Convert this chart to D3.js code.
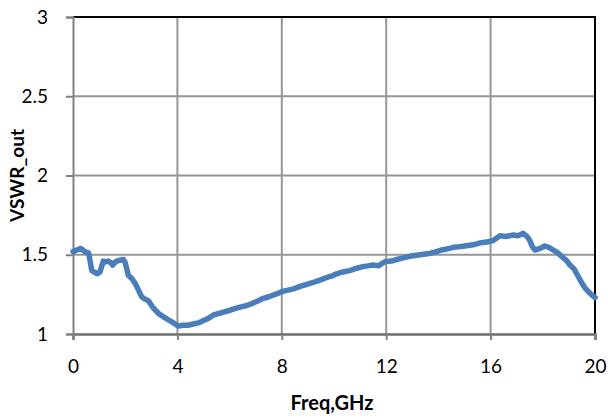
<!DOCTYPE html>
<html><head><meta charset="utf-8">
<script src="https://cdn.jsdelivr.net/npm/d3@7"></script>
<style>body{margin:0;background:#fff}svg{display:block}</style>
</head><body>
<svg id="c" width="608" height="420"></svg>
<script>
const freq = [0,0.15,0.3,0.45,0.6,0.72,0.82,0.92,1.03,1.16,1.25,1.35,1.45,1.52,1.6,1.67,1.8,1.93,2.0,2.12,2.25,2.38,2.5,2.63,2.76,2.89,3.05,3.27,3.45,3.65,3.85,4.03,4.2,4.4,4.61,4.8,5.0,5.2,5.38,5.6,5.8,6.02,6.2,6.4,6.66,6.9,7.1,7.29,7.5,7.75,8.0,8.2,8.45,8.7,8.9,9.2,9.46,9.7,9.9,10.1,10.3,10.6,10.87,11.1,11.3,11.5,11.7,11.95,12.2,12.4,12.66,12.9,13.1,13.3,13.5,13.7,13.93,14.1,14.3,14.57,14.8,15.0,15.2,15.4,15.6,15.85,16.1,16.36,16.6,16.87,17.05,17.25,17.4,17.5,17.6,17.7,17.9,18.08,18.25,18.4,18.55,18.72,18.9,19.04,19.2,19.3,19.4,19.5,19.62,19.75,19.88,20];
const vswr = [1.52,1.53,1.54,1.52,1.51,1.40,1.39,1.38,1.39,1.46,1.455,1.46,1.45,1.435,1.45,1.46,1.465,1.47,1.45,1.37,1.35,1.32,1.28,1.235,1.22,1.21,1.17,1.13,1.11,1.09,1.07,1.05,1.055,1.055,1.063,1.07,1.085,1.10,1.12,1.13,1.14,1.15,1.16,1.17,1.18,1.195,1.21,1.225,1.235,1.25,1.267,1.275,1.285,1.30,1.31,1.325,1.34,1.355,1.365,1.38,1.39,1.40,1.415,1.425,1.43,1.435,1.43,1.456,1.46,1.47,1.48,1.49,1.495,1.50,1.505,1.51,1.52,1.53,1.535,1.547,1.55,1.555,1.56,1.565,1.575,1.58,1.59,1.62,1.615,1.625,1.62,1.635,1.615,1.59,1.55,1.53,1.54,1.555,1.545,1.53,1.515,1.49,1.465,1.435,1.41,1.38,1.35,1.32,1.29,1.267,1.245,1.23];
const xTicks = [0,4,8,12,16,20];
const yTicks = [1,1.5,2,2.5,3];
const xLabel = "Freq,GHz";
const yLabel = "VSWR_out";

const svg = d3.select("#c");
const L=73, R=595, T=17, B=334;
const x = d3.scaleLinear().domain([0,20]).range([L,R]);
const y = d3.scaleLinear().domain([1,3]).range([B,T]);
const font = "Lato, 'Open Sans', sans-serif";

// gridlines
svg.append("g").selectAll("line").data(xTicks.slice(1,-1)).join("line")
  .attr("x1",d=>x(d)).attr("x2",d=>x(d)).attr("y1",T).attr("y2",B)
  .attr("stroke","#969696").attr("stroke-width",2);
svg.append("g").selectAll("line").data(yTicks.slice(1,-1)).join("line")
  .attr("y1",d=>y(d)).attr("y2",d=>y(d)).attr("x1",L).attr("x2",R)
  .attr("stroke","#969696").attr("stroke-width",2);

// plot border (top/right black)
svg.append("path").attr("d",`M${L},${T}H${R}V${B}`).attr("fill","none")
  .attr("stroke","#000").attr("stroke-width",2);

// axes
const xAxis = d3.axisBottom(x).tickValues(xTicks).tickSize(6).tickPadding(20).tickFormat(d3.format("d"));
const gx = svg.append("g").attr("transform",`translate(0,${B})`).call(xAxis);
gx.select(".domain").attr("stroke","#6e6e6e").attr("stroke-width",2.5);
gx.selectAll(".tick line").attr("stroke","#808080").attr("stroke-width",2);
gx.selectAll("text").attr("font-family",font).attr("font-size",19).attr("fill","#000");

const yAxis = d3.axisLeft(y).tickValues(yTicks).tickSize(7).tickPadding(18).tickFormat(d=>String(d));
const gy = svg.append("g").attr("transform",`translate(${L},0)`).call(yAxis);
gy.select(".domain").attr("stroke","#808080").attr("stroke-width",2);
gy.selectAll(".tick line").attr("stroke","#808080").attr("stroke-width",2);
gy.selectAll("text").attr("font-family",font).attr("font-size",19).attr("fill","#000");

// line
const line = d3.line().x((d,i)=>x(freq[i])).y(d=>y(d)).curve(d3.curveLinear);
svg.append("path").datum(vswr).attr("d",line).attr("fill","none")
  .attr("stroke","#4a7ebb").attr("stroke-width",5.5).attr("stroke-linejoin","round").attr("stroke-linecap","round");

// labels
svg.append("text").attr("x",(L+R)/2-2).attr("y",410).attr("text-anchor","middle")
  .attr("font-family",font).attr("font-weight","bold").attr("font-size",20).text(xLabel);
svg.append("text").attr("transform",`translate(24,${(T+B)/2}) rotate(-90)`).attr("text-anchor","middle")
  .attr("font-family",font).attr("font-weight","bold").attr("font-size",19).text(yLabel);
</script>
</body></html>
